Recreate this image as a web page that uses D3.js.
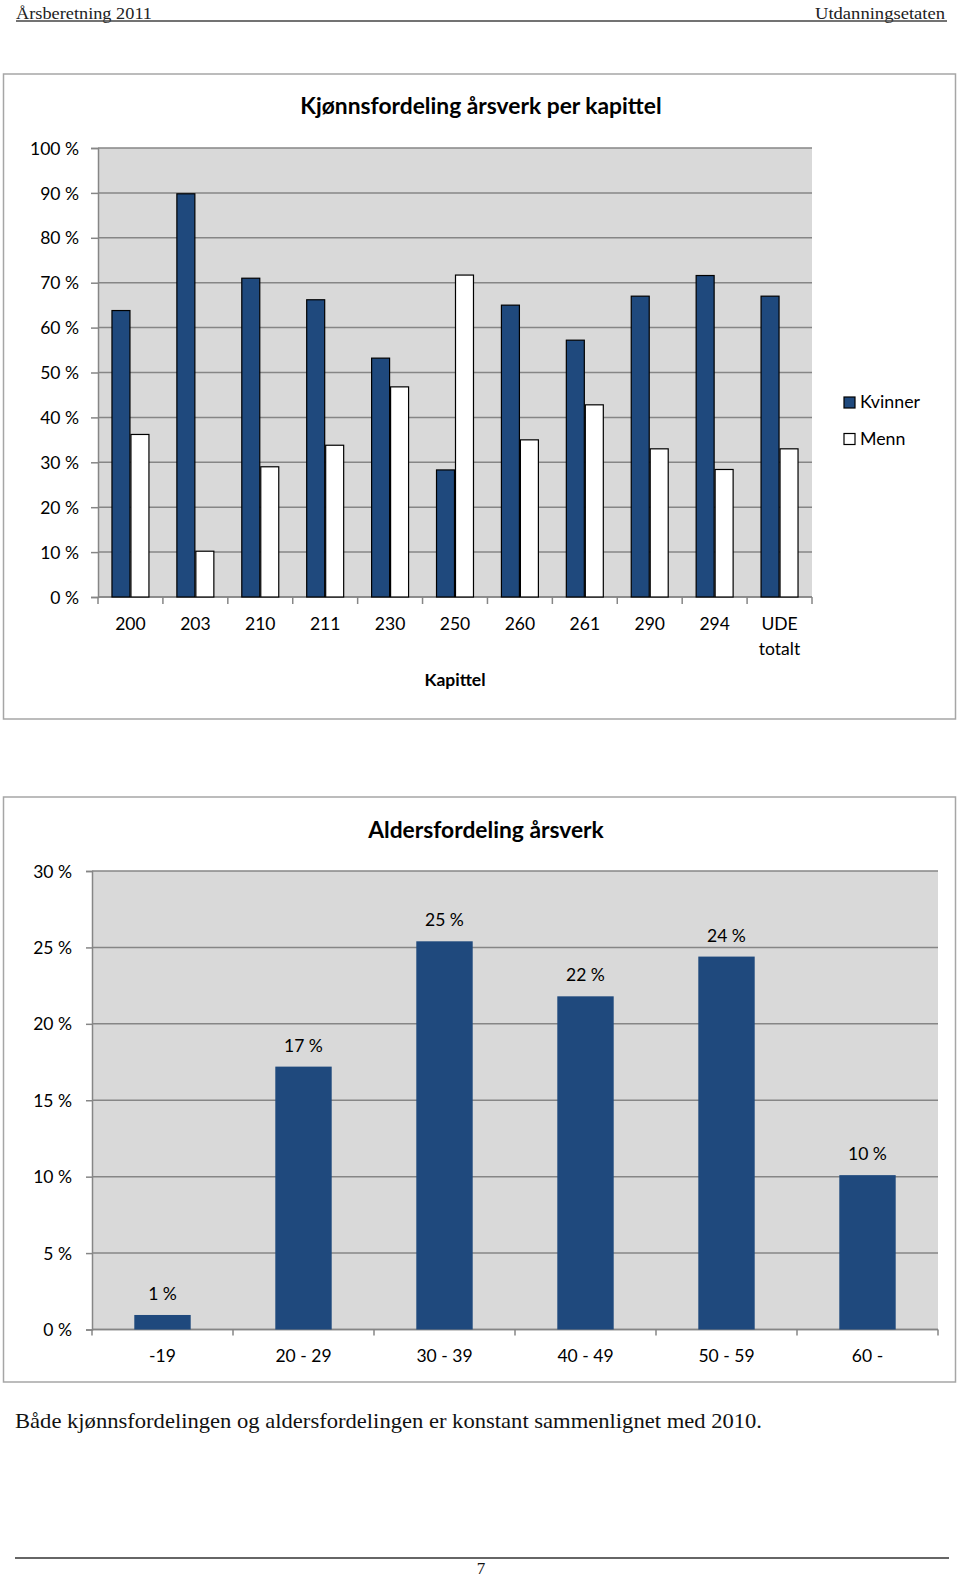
<!DOCTYPE html>
<html>
<head>
<meta charset="utf-8">
<script src="https://cdn.jsdelivr.net/npm/d3@7"></script>
<style>
  html, body { margin: 0; padding: 0; background: #fff; }
  svg { display: block; }
</style>
</head>
<body>
<svg id="page" width="960" height="1578"></svg>
<script>
// ---------- data ----------
const chapters = ["200", "203", "210", "211", "230", "250", "260", "261", "290", "294", "UDE\ntotalt"];
const kvinner = [63.8, 89.8, 71.0, 66.2, 53.2, 28.3, 65.0, 57.2, 67.0, 71.6, 67.0];
const menn    = [36.2, 10.2, 29.0, 33.8, 46.8, 71.7, 35.0, 42.8, 33.0, 28.4, 33.0];
const seriesNames = ["Kvinner", "Menn"];
const yTicks1 = [0, 10, 20, 30, 40, 50, 60, 70, 80, 90, 100];

const ageGroups = ["-19", "20 - 29", "30 - 39", "40 - 49", "50 - 59", "60 -"];
const ageShare  = [0.95, 17.2, 25.4, 21.8, 24.4, 10.1];
const yTicks2 = [0, 5, 10, 15, 20, 25, 30];

const headerLeft = "Årsberetning 2011";
const headerRight = "Utdanningsetaten";
const title1 = "Kjønnsfordeling årsverk per kapittel";
const xTitle1 = "Kapittel";
const title2 = "Aldersfordeling årsverk";
const bodyText = "Både kjønnsfordelingen og aldersfordelingen er konstant sammenlignet med 2010.";
const pageNo = "7";

// ---------- style ----------
const NAVY = "#1f497d";
const PLOTBG = "#d9d9d9";
const GRID = "#868686";
const BORDER = "#a6a6a6";
const CF = "Lato, Carlito, 'Open Sans', sans-serif";
const SF = "'Liberation Serif', 'DejaVu Serif', serif";

const svg = d3.select("#page");

// ---------- page header/footer ----------
svg.append("text").attr("x", 16).attr("y", 19).attr("font-family", SF).attr("font-size", 17.5)
  .attr("fill", "#222").attr("textLength", 136).attr("lengthAdjust", "spacingAndGlyphs").text(headerLeft);
svg.append("text").attr("x", 815).attr("y", 19).attr("font-family", SF)
  .attr("font-size", 17.5).attr("fill", "#222").attr("textLength", 130).attr("lengthAdjust", "spacingAndGlyphs").text(headerRight);
svg.append("line").attr("x1", 16).attr("x2", 947).attr("y1", 21).attr("y2", 21)
  .attr("stroke", "#444").attr("stroke-width", 1.4);

svg.append("text").attr("x", 15).attr("y", 1428).attr("font-family", SF).attr("font-size", 21)
  .attr("fill", "#111").attr("textLength", 747).attr("lengthAdjust", "spacingAndGlyphs").text(bodyText);
svg.append("line").attr("x1", 15).attr("x2", 949).attr("y1", 1558).attr("y2", 1558)
  .attr("stroke", "#333").attr("stroke-width", 1.4);
svg.append("text").attr("x", 481).attr("y", 1574).attr("text-anchor", "middle").attr("font-family", SF)
  .attr("font-size", 17).attr("fill", "#111").text(pageNo);

// ---------- chart 1 ----------
{
  const box = {x: 3.5, y: 74, w: 952, h: 645};
  svg.append("rect").attr("x", box.x).attr("y", box.y).attr("width", box.w).attr("height", box.h)
    .attr("fill", "#fff").attr("stroke", BORDER).attr("stroke-width", 1.5);

  const L = 98, R = 812, T = 148, B = 597;
  const y = d3.scaleLinear().domain([0, 100]).range([B, T]);
  const x = d3.scaleBand().domain(chapters).range([L, R]).padding(0);
  const gw = x.bandwidth() * 0.585;
  const x1 = d3.scaleBand().domain(seriesNames).range([(x.bandwidth() - gw) / 2, (x.bandwidth() + gw) / 2]);

  const g = svg.append("g");
  g.append("rect").attr("x", L).attr("y", T).attr("width", R - L).attr("height", B - T).attr("fill", PLOTBG);
  g.selectAll("line.grid").data(yTicks1).join("line")
    .attr("x1", L).attr("x2", R).attr("y1", d => y(d)).attr("y2", d => y(d))
    .attr("stroke", GRID).attr("stroke-width", 1.5);

  const ya = g.append("g").attr("transform", `translate(${L},0)`)
    .call(d3.axisLeft(y).tickValues(yTicks1).tickSize(7).tickPadding(12).tickFormat(d => d + " %"));
  ya.select(".domain").attr("stroke", GRID).attr("stroke-width", 1.5);
  ya.selectAll(".tick line").attr("stroke", GRID).attr("stroke-width", 1.5);
  ya.selectAll(".tick text").attr("font-family", CF).attr("font-size", 17.5).attr("fill", "#000").attr("dy", "0.35em");

  g.append("line").attr("x1", L).attr("x2", R).attr("y1", B).attr("y2", B).attr("stroke", GRID).attr("stroke-width", 1.5);
  const bounds = chapters.map(c => x(c)).concat([x(chapters[chapters.length - 1]) + x.bandwidth()]);
  g.selectAll("line.xt").data(bounds).join("line")
    .attr("x1", d => d).attr("x2", d => d).attr("y1", B).attr("y2", B + 7)
    .attr("stroke", GRID).attr("stroke-width", 1.5);

  const rows = chapters.map((c, i) => ({c, vals: [kvinner[i], menn[i]]}));
  const grp = g.selectAll("g.grp").data(rows).join("g").attr("transform", d => `translate(${x(d.c)},0)`);
  grp.selectAll("rect").data(d => d.vals.map((v, j) => ({s: seriesNames[j], v})))
    .join("rect")
    .attr("x", d => x1(d.s) + 0.5).attr("width", x1.bandwidth() - 1)
    .attr("y", d => y(d.v)).attr("height", d => B - y(d.v))
    .attr("fill", d => d.s === "Kvinner" ? NAVY : "#fff")
    .attr("stroke", "#000").attr("stroke-width", 1.2);

  const xl = g.selectAll("text.xl").data(chapters).join("text")
    .attr("text-anchor", "middle").attr("font-family", CF).attr("font-size", 17.5).attr("fill", "#000");
  xl.each(function(d) {
    const t = d3.select(this);
    d.split("\n").forEach((line, k) => {
      t.append("tspan").attr("x", x(d) + x.bandwidth() / 2).attr("y", 630 + k * 24.5).text(line);
    });
  });

  svg.append("text").attr("x", 481).attr("y", 114).attr("text-anchor", "middle").attr("font-family", CF)
    .attr("font-weight", "bold").attr("font-size", 22.8).attr("fill", "#000").text(title1);
  svg.append("text").attr("x", (L + R) / 2).attr("y", 686).attr("text-anchor", "middle").attr("font-family", CF)
    .attr("font-weight", "bold").attr("font-size", 17.5).attr("fill", "#000").text(xTitle1);

  const leg = svg.append("g").selectAll("g").data(seriesNames).join("g")
    .attr("transform", (d, i) => `translate(844,${397 + i * 36.5})`);
  leg.append("rect").attr("width", 11).attr("height", 11)
    .attr("fill", d => d === "Kvinner" ? NAVY : "#fff").attr("stroke", "#000").attr("stroke-width", 1.2);
  leg.append("text").attr("x", 16).attr("y", 11).attr("font-family", CF).attr("font-size", 17.8)
    .attr("fill", "#000").text(d => d);
}

// ---------- chart 2 ----------
{
  const box = {x: 3.5, y: 797, w: 952, h: 585};
  svg.append("rect").attr("x", box.x).attr("y", box.y).attr("width", box.w).attr("height", box.h)
    .attr("fill", "#fff").attr("stroke", BORDER).attr("stroke-width", 1.5);

  const L = 92, R = 938, T = 871, B = 1329.5;
  const y = d3.scaleLinear().domain([0, 30]).range([B, T]);
  const x = d3.scaleBand().domain(ageGroups).range([L, R]).padding(0);
  const bw = x.bandwidth() * 0.4;

  const g = svg.append("g");
  g.append("rect").attr("x", L).attr("y", T).attr("width", R - L).attr("height", B - T).attr("fill", PLOTBG);
  g.selectAll("line.grid").data(yTicks2).join("line")
    .attr("x1", L).attr("x2", R).attr("y1", d => y(d)).attr("y2", d => y(d))
    .attr("stroke", GRID).attr("stroke-width", 1.5);

  const ya = g.append("g").attr("transform", `translate(${L},0)`)
    .call(d3.axisLeft(y).tickValues(yTicks2).tickSize(6).tickPadding(14).tickFormat(d => d + " %"));
  ya.select(".domain").attr("stroke", GRID).attr("stroke-width", 1.5);
  ya.selectAll(".tick line").attr("stroke", GRID).attr("stroke-width", 1.5);
  ya.selectAll(".tick text").attr("font-family", CF).attr("font-size", 17.5).attr("fill", "#000").attr("dy", "0.35em");

  g.append("line").attr("x1", L).attr("x2", R).attr("y1", B).attr("y2", B).attr("stroke", GRID).attr("stroke-width", 1.5);
  const bounds = ageGroups.map(c => x(c)).concat([R]);
  g.selectAll("line.xt").data(bounds).join("line")
    .attr("x1", d => d).attr("x2", d => d).attr("y1", B).attr("y2", B + 6)
    .attr("stroke", GRID).attr("stroke-width", 1.5);

  const rows = ageGroups.map((c, i) => ({c, v: ageShare[i]}));
  g.selectAll("rect.bar").data(rows).join("rect")
    .attr("x", d => x(d.c) + (x.bandwidth() - bw) / 2).attr("width", bw)
    .attr("y", d => y(d.v)).attr("height", d => B - y(d.v)).attr("fill", NAVY);

  g.selectAll("text.val").data(rows).join("text")
    .attr("x", d => x(d.c) + x.bandwidth() / 2).attr("y", d => y(d.v) - 15)
    .attr("text-anchor", "middle").attr("font-family", CF).attr("font-size", 17.5).attr("fill", "#000")
    .text(d => Math.round(d.v) + " %");

  g.selectAll("text.xl").data(ageGroups).join("text")
    .attr("x", d => x(d) + x.bandwidth() / 2).attr("y", 1362)
    .attr("text-anchor", "middle").attr("font-family", CF).attr("font-size", 17.5).attr("fill", "#000")
    .text(d => d);

  svg.append("text").attr("x", 486).attr("y", 838).attr("text-anchor", "middle").attr("font-family", CF)
    .attr("font-weight", "bold").attr("font-size", 22.8).attr("fill", "#000").text(title2);
}
</script>
</body>
</html>
